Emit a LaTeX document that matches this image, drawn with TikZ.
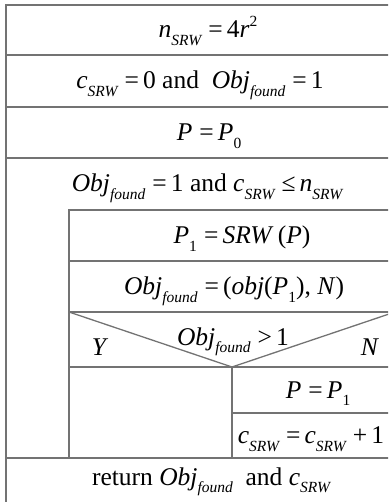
\documentclass[tikz,border=0pt]{standalone}
\usepackage{fontspec}
\setmainfont{Liberation Serif}
\usetikzlibrary{positioning}

\newcommand{\iv}[1]{\textit{#1}}
\newcommand{\lo}[1]{\raisebox{-0.3em}{\fontsize{15.5}{15.5}\selectfont\itshape #1}}
\newcommand{\lon}[1]{\raisebox{-0.3em}{\fontsize{15.5}{15.5}\selectfont #1}}
\newcommand{\up}[1]{\raisebox{0.45em}{\fontsize{15.5}{15.5}\selectfont #1}}
\newcommand{\op}[1]{\hspace{0.28em}#1\hspace{0.16em}}

\begin{document}
\begin{tikzpicture}[
  x=1pt, y=-1pt,
  font=\fontsize{25.5}{25.5}\selectfont,
  grid/.style={draw=black!55, line width=1.3pt},
  txt/.style={anchor=base, inner sep=0pt}
]
\clip (0,0) rectangle (388,502);

% outer frame and sequence rows
\draw[grid] (6,520) -- (6,5) -- (395,5) -- (395,520);
\foreach \yy in {55,107,158,458}
  \draw[grid] (6,\yy) -- (395,\yy);

% loop body
\draw[grid] (69,458) -- (69,210) -- (395,210);
\foreach \yy in {261,312,367}
  \draw[grid] (69,\yy) -- (395,\yy);
\draw[grid] (69,312) -- (232,367) -- (395,312);
\draw[grid] (232,367) -- (232,458);
\draw[grid] (232,413) -- (395,413);

\node[txt] (nsrw) at (208,38) {\iv{n}\lo{SRW}\op{=}4\iv{r}\up{2}};
\node[txt] (init) at (200,89) {\iv{c}\lo{SRW}\op{=}0 and\ \ \iv{Obj}\lo{found}\op{=}1};
\node[txt] (pnul) at (209,141) {\iv{P}\op{=}\iv{P}\lon{0}};
\node[txt] (cond) at (207,192) {\iv{Obj}\lo{found}\op{=}1 and \iv{c}\lo{SRW}\op{≤}\iv{n}\lo{SRW}};
\node[txt] (walk) at (242,243.5) {\iv{P}\lon{1}\op{=}\iv{SRW}\,(\iv{P})};
\node[txt] (objf) at (234,294.5) {\iv{Obj}\lo{found}\op{=}(\iv{obj}(\iv{P}\lon{1}), \iv{N})};
\node[txt] (test) at (233,345) {\iv{Obj}\lo{found}\op{>}1};
\node[txt] (yes) at (100,355) {\iv{Y}};
\node[txt] (no) at (370,355) {\iv{N}};
\node[txt] (pone) at (318,398) {\iv{P}\op{=}\iv{P}\lon{1}};
\node[txt] (incr) at (311,443.5) {\iv{c}\lo{SRW}\op{=}\iv{c}\lo{SRW}\op{+}1};
\node[txt] (ret) at (211,485) {return \iv{Obj}\lo{found}\ \ and \iv{c}\lo{SRW}};
\end{tikzpicture}
\end{document}
